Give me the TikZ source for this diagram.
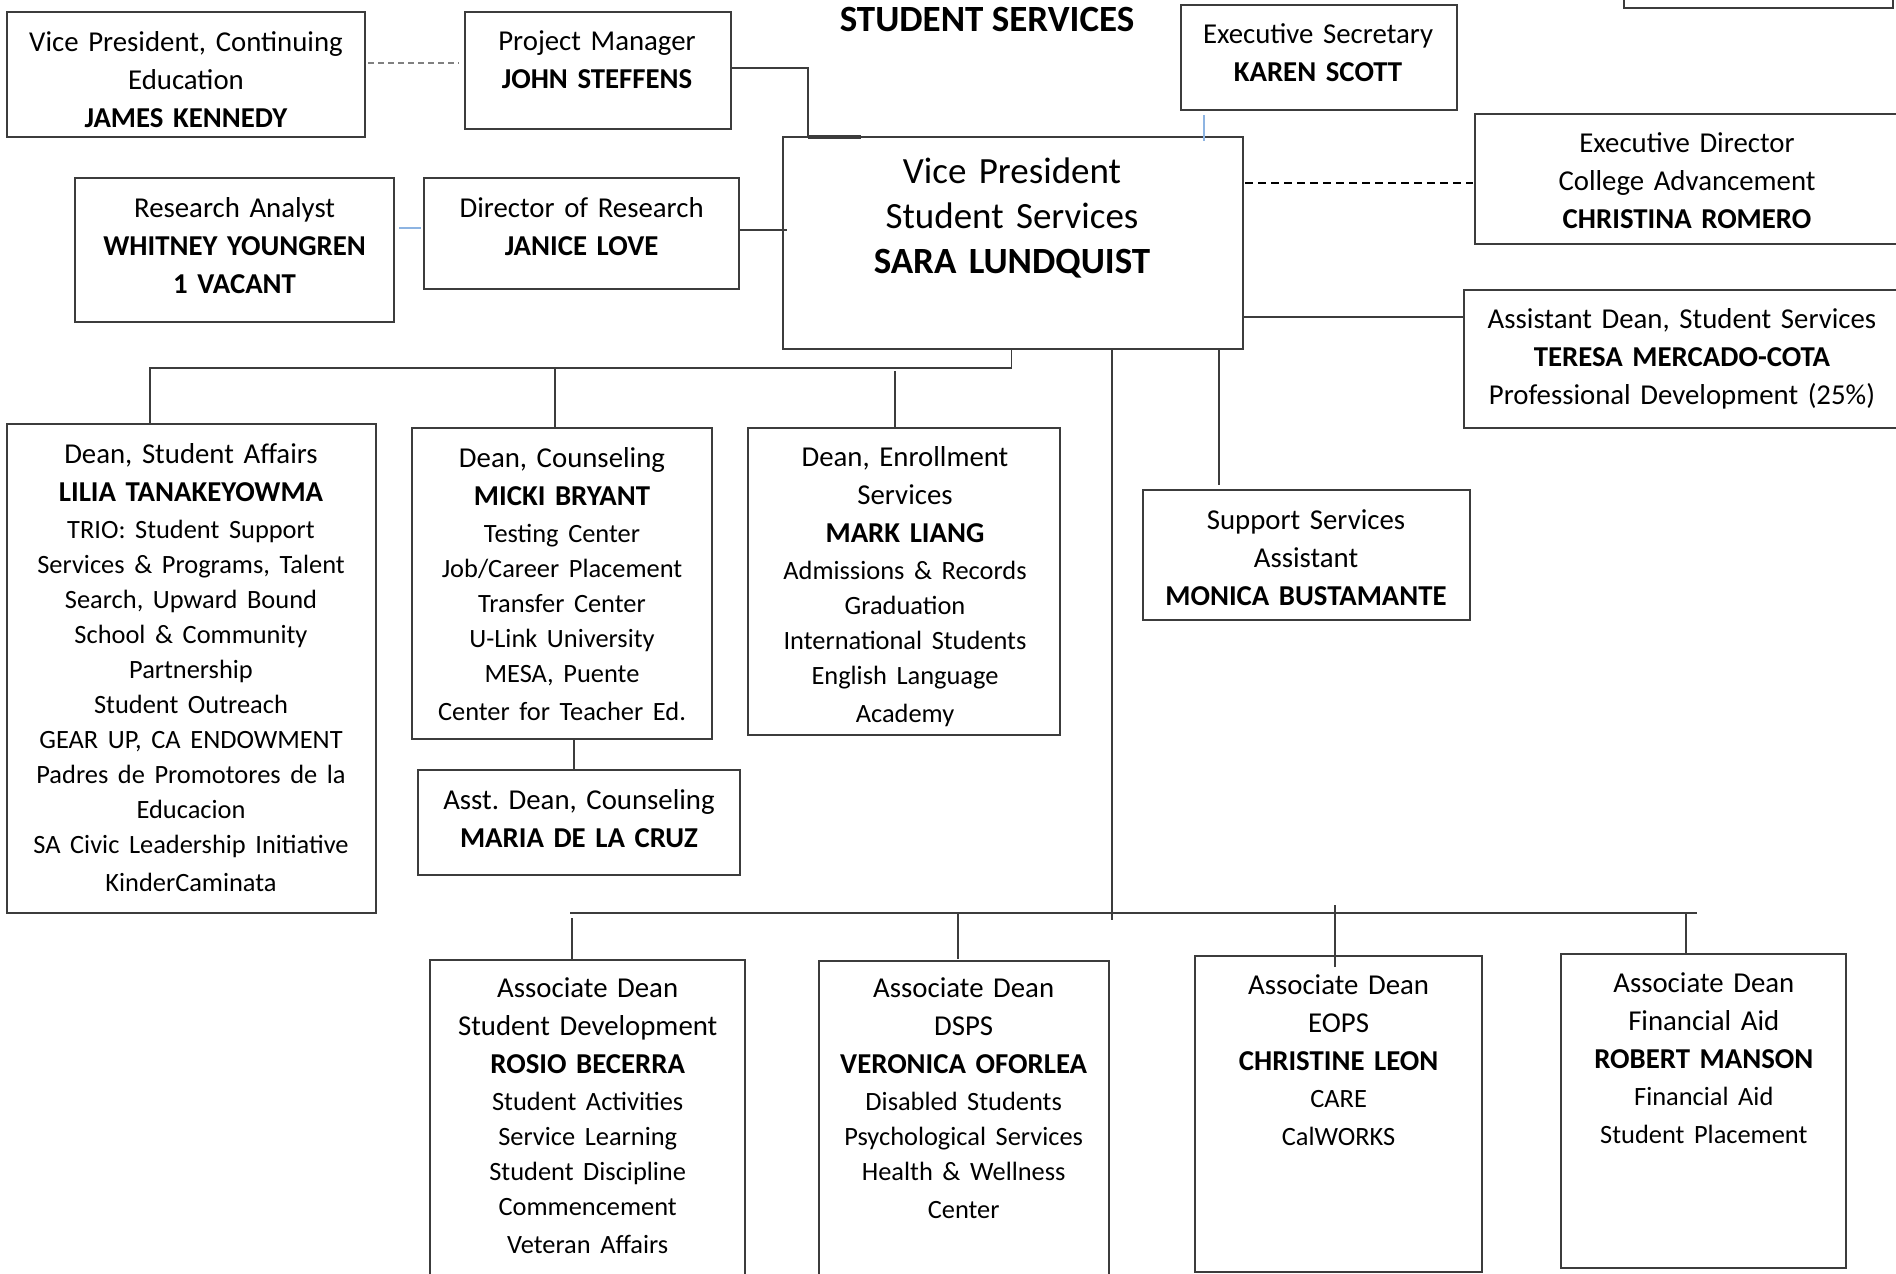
\documentclass[tikz,border=0pt]{standalone}
\usepackage{fontspec}
\setmainfont{Carlito}
\usetikzlibrary{calc}
\frenchspacing
\definecolor{lg}{HTML}{3C3C3C}
\definecolor{lb}{HTML}{8DB4E2}
\newcommand{\orgtf}{\fontsize{28.8}{38}\selectfont}
\newcommand{\orgitf}{\fontsize{26.4}{35}\selectfont}
\newcommand{\orgvpf}{\fontsize{37}{45}\selectfont}
\tikzset{
  boxst/.style={draw=lg, line width=1.8, inner sep=0, outer sep=0},
  txt/.style={align=center, inner sep=0, font=\orgtf, text=black, text width=440},
  conn/.style={draw=lg, line width=1.6},
  thinconn/.style={draw=lg, line width=1.2},
  blueln/.style={draw=lb, line width=1.6},
  dashgrey/.style={draw=gray, line width=1.5, dash pattern=on 6pt off 4pt},
  dashblack/.style={draw=black, line width=1.5, dash pattern=on 8pt off 5pt}
}
\newcommand{\orgbox}[5]{\node[boxst, minimum width={#4-#2}, minimum height={#5-#3}] (#1) at ({(#2+#4)/2},{(#3+#5)/2}) {};}
\newcommand{\orgtext}[4]{\node[txt] (#1) at (#2,#3) {#4};}
\begin{document}
\begin{tikzpicture}[x=1pt,y=-1pt]
\useasboundingbox (0,0) rectangle (1896,1274);
\clip (0,0) rectangle (1896,1274);

% boxes
\orgbox{tr}{1624}{-20}{1893}{8}
\orgbox{vpce}{7}{12}{365}{137}
\orgbox{pm}{465}{12}{731}{129}
\orgbox{es}{1181}{5}{1457}{110}
\orgbox{vp}{783}{137}{1243}{349}
\orgbox{ed}{1475}{114}{1910}{244}
\orgbox{adss}{1464}{290}{1910}{428}
\orgbox{ra}{75}{178}{394}{322}
\orgbox{dor}{424}{178}{739}{289}
\orgbox{dsa}{7}{424}{376}{913}
\orgbox{dc}{412}{428}{712}{739}
\orgbox{adc}{418}{770}{740}{875}
\orgbox{de}{748}{428}{1060}{735}
\orgbox{ssa}{1143}{490}{1470}{620}
\orgbox{sd}{430}{960}{745}{1290}
\orgbox{dsps}{819}{961}{1109}{1290}
\orgbox{eops}{1195}{956}{1482}{1272}
\orgbox{fa}{1561}{954}{1846}{1268}

% texts
\node[inner sep=0, font=\fontsize{37}{45}\selectfont\bfseries] (title) at (987,20) {STUDENT SERVICES};
\orgtext{t-vpce}{186}{79.2}{Vice President, Continuing\\ Education\\ \textbf{JAMES KENNEDY}}
\orgtext{t-pm}{597}{59.9}{Project Manager\\ \textbf{JOHN STEFFENS}}
\orgtext{t-es}{1318}{52.6}{Executive Secretary\\ \textbf{KAREN SCOTT}}
\node[txt, font=\orgvpf] (t-vp) at (1012,218) {Vice President\\ Student Services\\ \textbf{SARA LUNDQUIST}};
\orgtext{t-ed}{1687}{180.2}{Executive Director\\ College Advancement\\ \textbf{CHRISTINA ROMERO}}
\orgtext{t-adss}{1682}{359}{Assistant Dean, Student Services\\ \textbf{TERESA MERCADO-COTA}\\ Professional Development (25\%)}
\orgtext{t-ra}{234.6}{245.5}{Research Analyst\\ \textbf{WHITNEY YOUNGREN}\\ \textbf{1 VACANT}}
\orgtext{t-dor}{581.6}{226.5}{Director of Research\\ \textbf{JANICE LOVE}}
\orgtext{t-dsa}{191}{668}{Dean, Student Affairs\\ \textbf{LILIA TANAKEYOWMA}\\[2pt] \orgitf TRIO: Student Support\\ Services \& Programs, Talent\\ Search, Upward Bound\\ School \& Community\\ Partnership\\ Student Outreach\\ GEAR UP, CA ENDOWMENT\\ Padres de Promotores de la\\ Educacion\\ SA Civic Leadership Initiative\\ KinderCaminata}
\orgtext{t-dc}{562}{584}{Dean, Counseling\\ \textbf{MICKI BRYANT}\\[2pt] \orgitf Testing Center\\ Job/Career Placement\\ Transfer Center\\ U-Link University\\ MESA, Puente\\ Center for Teacher Ed.}
\orgtext{t-adc}{579}{818.5}{Asst. Dean, Counseling\\ \textbf{MARIA DE LA CRUZ}}
\orgtext{t-de}{905}{587}{Dean, Enrollment\\ Services\\ \textbf{MARK LIANG}\\[2pt] \orgitf Admissions \& Records\\ Graduation\\ International Students\\ English Language\\ Academy}
\orgtext{t-ssa}{1306}{557.5}{Support Services\\ Assistant\\ \textbf{MONICA BUSTAMANTE}}
\orgtext{t-sd}{587.7}{1115.5}{Associate Dean\\ Student Development\\ \textbf{ROSIO BECERRA}\\[2pt] \orgitf Student Activities\\ Service Learning\\ Student Discipline\\ Commencement\\ Veteran Affairs}
\orgtext{t-dsps}{963.7}{1098.6}{Associate Dean\\ DSPS\\ \textbf{VERONICA OFORLEA}\\[2pt] \orgitf Disabled Students\\ Psychological Services\\ Health \& Wellness\\ Center}
\orgtext{t-eops}{1338.6}{1060}{Associate Dean\\ EOPS\\ \textbf{CHRISTINE LEON}\\[2pt] \orgitf CARE\\ CalWORKS}
\orgtext{t-fa}{1703.8}{1058.5}{Associate Dean\\ Financial Aid\\ \textbf{ROBERT MANSON}\\[2pt] \orgitf Financial Aid\\ Student Placement}

% connectors
\draw[dashgrey] ($(vpce.east)+(3,-11.5)$) -- ($(pm.west)+(-6,-7.5)$);
\draw[conn] ($(pm.east)+(0,-2.5)$) -| ($(vp.north west)+(25,0)$);
\draw[conn, line width=3.5] ($(vp.north west)+(25,0)$) -- ($(vp.north west)+(78,0)$);
\draw[blueln] ($(es.south west)+(23,5)$) -- ($(vp.north west)+(421,4)$);
\draw[dashblack] ($(vp.east)+(2,-60)$) -- ($(ed.west)+(-2,4)$);
\draw[conn] ($(vp.east)+(0,74)$) -- ($(adss.west)+(0,-42)$);
\draw[blueln] ($(ra.east)+(5,-22)$) -- ($(dor.west)+(-3,-5.5)$);
\draw[conn] ($(dor.east)+(0,-3.5)$) -- ($(vp.west)+(4,-13)$);
\draw[conn] ($(vp.south)+(-1.5,0)$) -- ++(0,19) -| ($(dsa.north west)+(143,0)$);
\draw[conn] ($(dc.north west)+(143,0)$) -- ++(0,-60);
\draw[conn] ($(de.north west)+(147,0)$) -- ++(0,-57);
\draw[conn] ($(dc.south west)+(162,0)$) -- ($(adc.north west)+(156,0)$);
\draw[conn] ($(vp.south west)+(436,0)$) -- ($(ssa.north west)+(76,-5)$);
\draw[conn] ($(vp.south west)+(329,0)$) -- ++(0,571);
\coordinate (busL) at (570,913);
\coordinate (busR) at (1697,913);
\draw[conn, line width=2.5] (busL) -- (busR);
\draw[thinconn] ($(sd.north west)+(142,0)$) -- ++(0,-42);
\draw[thinconn] ($(dsps.north west)+(139,-2)$) -- ++(0,-46);
\draw[thinconn] ($(eops.north west)+(140,11)$) -- ++(0,-62);
\draw[thinconn] ($(fa.north west)+(125,-1)$) -- ++(0,-40);
\end{tikzpicture}
\end{document}
